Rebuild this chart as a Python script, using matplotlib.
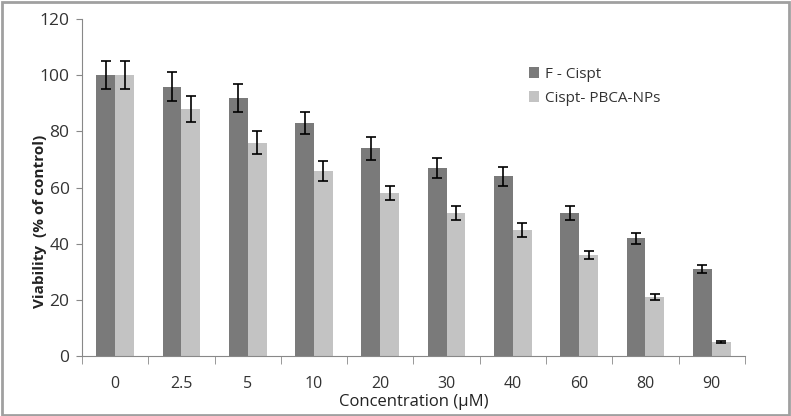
import matplotlib
matplotlib.use("Agg")
import matplotlib.pyplot as plt
import numpy as np
from matplotlib.patches import Rectangle

categories = ["0", "2.5", "5", "10", "20", "30", "40", "60", "80", "90"]
f_cispt = [100, 96, 92, 83, 74, 67, 64, 51, 42, 31]
f_cispt_err = [5, 5, 5, 4, 4, 3.5, 3.5, 2.5, 2, 1.5]
pbca = [100, 88, 76, 66, 58, 51, 45, 36, 21, 5]
pbca_err = [5, 4.5, 4, 3.5, 2.5, 2.5, 2.5, 1.5, 1, 0.3]

plt.rcParams['font.family'] = ['Open Sans', 'DejaVu Sans']

fig = plt.figure(figsize=(7.91, 4.16), dpi=100)
ax = fig.add_axes([0.1037, 0.144, 0.838, 0.810])

x = np.arange(len(categories))
w = 0.285
ekw = dict(ecolor='black', elinewidth=1.2, capsize=3.5, capthick=1.2)
ax.bar(x - w/2, f_cispt, w, color='#7a7a7a', yerr=f_cispt_err, error_kw=ekw, label='F - Cispt')
ax.bar(x + w/2, pbca, w, color='#c3c3c3', yerr=pbca_err, error_kw=ekw, label='Cispt- PBCA-NPs')

ax.set_xlim(-0.5, len(categories) - 0.5)
ax.set_ylim(0, 120)
ax.set_yticks(range(0, 121, 20))
ax.set_xticks(x)
ax.set_xticklabels(categories)
ax.set_xticks(np.arange(-0.5, len(categories), 1), minor=True)
ax.tick_params(axis='x', which='major', length=0, pad=14, labelsize=11.5, colors='#333333')
ax.tick_params(axis='x', which='minor', length=6, color='#888888', direction='out')
ax.tick_params(axis='y', length=4, color='#888888', labelsize=12.5, labelcolor='#333333', pad=5)
for s in ['top', 'right']:
    ax.spines[s].set_visible(False)
for s in ['left', 'bottom']:
    ax.spines[s].set_color('#888888')

ax.set_ylabel('Viability  (% of control)', fontsize=11, fontweight='bold', color='#222222')
ax.yaxis.set_label_coords(-0.053, 0.40)
ax.set_xlabel('Concentration (µM)', fontsize=12, color='#222222', labelpad=2)

ax.legend(loc='upper left', bbox_to_anchor=(0.653, 0.90), frameon=False, fontsize=11,
          handlelength=0.7, handleheight=0.7, handletextpad=0.4, labelspacing=0.6,
          labelcolor='#333333')

fig.patches.append(Rectangle((0.002, 0.003), 0.995, 0.993, transform=fig.transFigure,
                             fill=False, edgecolor='#a0a0a0', linewidth=2))

fig.savefig('out.png', dpi=100)
